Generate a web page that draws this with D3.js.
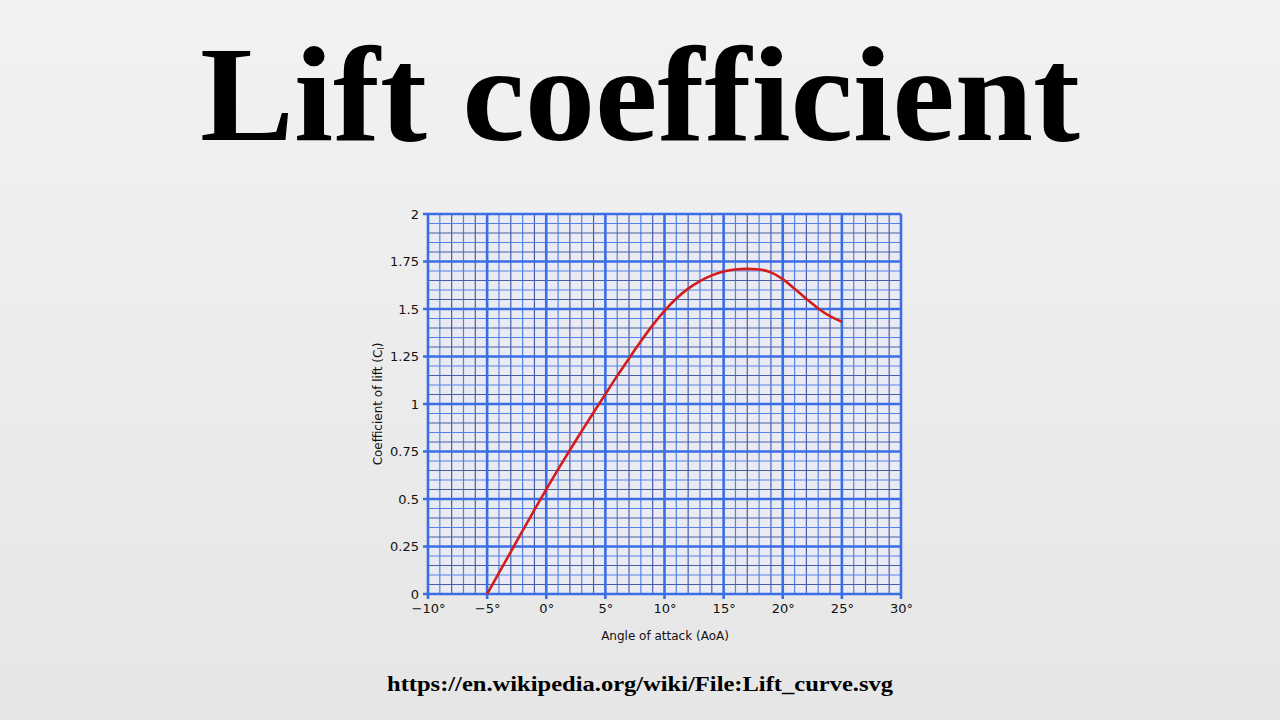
<!DOCTYPE html>
<html>
<head>
<meta charset="utf-8">
<script src="https://cdn.jsdelivr.net/npm/d3@7"></script>
<style>
  html, body { margin: 0; padding: 0; }
  body { width: 1280px; height: 720px; overflow: hidden; }
</style>
</head>
<body>
<script>
// ---- data ----
const title = "Lift coefficient";
const sourceText = "https://en.wikipedia.org/wiki/File:Lift_curve.svg";
const xLabel = "Angle of attack (AoA)";
const angles = [-5,-4,-3,-2,-1,0,1,2,3,4,5,6,7,8,9,10,11,12,13,14,15,16,17,18,19,20,21,22,23,24,25];
const liftValues = [0,0.111,0.222,0.333,0.443,0.551,0.656,0.758,0.857,0.955,1.052,1.148,1.24,1.33,1.415,1.49,1.555,1.607,1.647,1.677,1.697,1.708,1.711,1.708,1.693,1.657,1.607,1.553,1.503,1.462,1.432];
const xTicks = [-10,-5,0,5,10,15,20,25,30];
const yTicks = [0,0.25,0.5,0.75,1,1.25,1.5,1.75,2];
const yTickLabels = ["0","0.25","0.5","0.75","1","1.25","1.5","1.75","2"];

const W = 1280, H = 720;
const svg = d3.select("body").append("svg").attr("width", W).attr("height", H);

const defs = svg.append("defs");
const grad = defs.append("linearGradient").attr("id","bg").attr("x1",0).attr("y1",0).attr("x2",0).attr("y2",1);
grad.append("stop").attr("offset","0%").attr("stop-color","#f2f2f2");
grad.append("stop").attr("offset","100%").attr("stop-color","#e6e6e6");
svg.append("rect").attr("width",W).attr("height",H).attr("fill","url(#bg)");

// title
svg.append("text").attr("x",640).attr("y",140).attr("text-anchor","middle")
  .attr("font-family","'Liberation Serif', 'Times New Roman', serif").attr("font-weight","bold")
  .attr("font-size",136).attr("textLength",880).attr("lengthAdjust","spacingAndGlyphs")
  .attr("fill","#000").text(title);

// source
svg.append("text").attr("x",640).attr("y",691).attr("text-anchor","middle")
  .attr("font-family","'Liberation Serif', 'Times New Roman', serif").attr("font-weight","bold")
  .attr("font-size",22).attr("textLength",506).attr("lengthAdjust","spacingAndGlyphs")
  .attr("fill","#000").text(sourceText);

// scales
const x = d3.scaleLinear().domain([-10,30]).range([428,901]);
const y = d3.scaleLinear().domain([0,2]).range([594,214]);

const g = svg.append("g");
g.append("rect").attr("x",x(-10)).attr("y",y(2)).attr("width",x(30)-x(-10)).attr("height",y(0)-y(2)).attr("fill","#eaebf2");

// minor grid
const xMinor = d3.range(-10,30.001,1).filter(v => v % 5 !== 0);
const yMinor = d3.range(0,40.001,1).filter(v => v % 5 !== 0).map(v => v/20);
g.selectAll(".vminor").data(xMinor).join("line")
  .attr("x1",d=>x(d)).attr("x2",d=>x(d)).attr("y1",y(0)).attr("y2",y(2))
  .attr("stroke", (d,i)=> i%2===0 ? "#5580e6" : "#465ea6").attr("stroke-width",1.2);
g.selectAll(".hminor").data(yMinor).join("line")
  .attr("y1",d=>y(d)).attr("y2",d=>y(d)).attr("x1",x(-10)).attr("x2",x(30))
  .attr("stroke", (d,i)=> i%2===0 ? "#465ea6" : "#5580e6").attr("stroke-width",1.2);

// major grid
g.selectAll(".vmajor").data(xTicks).join("line")
  .attr("x1",d=>x(d)).attr("x2",d=>x(d)).attr("y1",y(0)+5).attr("y2",y(2))
  .attr("stroke","#3a6ee6").attr("stroke-width",2.6);
g.selectAll(".hmajor").data(yTicks).join("line")
  .attr("y1",d=>y(d)).attr("y2",d=>y(d)).attr("x1",x(-10)-5).attr("x2",x(30))
  .attr("stroke","#3a6ee6").attr("stroke-width",2.6);

// axes labels via d3 axes
const fontSans = "'DejaVu Sans', Verdana, sans-serif";
const xAxis = d3.axisBottom(x).tickValues(xTicks).tickSize(0).tickPadding(0)
  .tickFormat(d => (d < 0 ? "\u2212" + Math.abs(d) : d) + "\u00b0");
const xa = svg.append("g").attr("transform",`translate(0,${y(0)+10})`).call(xAxis);
xa.select(".domain").remove();
xa.selectAll("text").attr("font-family",fontSans).attr("font-size",13).attr("fill","#111").attr("dy","0.71em");

const yAxis = d3.axisLeft(y).tickValues(yTicks).tickSize(0).tickPadding(0)
  .tickFormat((d,i) => yTickLabels[i]);
const ya = svg.append("g").attr("transform",`translate(${x(-10)-9},0)`).call(yAxis);
ya.select(".domain").remove();
ya.selectAll("text").attr("font-family",fontSans).attr("font-size",13).attr("fill","#111");

// axis titles
svg.append("text").attr("x",665).attr("y",640).attr("text-anchor","middle")
  .attr("font-family",fontSans).attr("font-size",12).attr("fill","#111").text(xLabel);
const yl = svg.append("text").attr("transform",`translate(382,${(y(0)+y(2))/2}) rotate(-90)`)
  .attr("text-anchor","middle").attr("font-family",fontSans).attr("font-size",12).attr("fill","#111");
yl.append("tspan").text("Coefficient of lift (C");
yl.append("tspan").attr("font-size",8).attr("dy",2).text("l");
yl.append("tspan").attr("dy",-2).text(")");

// curve
const line = d3.line().x((d,i)=>x(angles[i])).y(d=>y(d)).curve(d3.curveMonotoneX);
g.append("path").datum(liftValues).attr("d",line).attr("fill","none")
  .attr("stroke","#d41c1c").attr("stroke-width",2.6).attr("stroke-linejoin","round");
</script>
</body>
</html>
